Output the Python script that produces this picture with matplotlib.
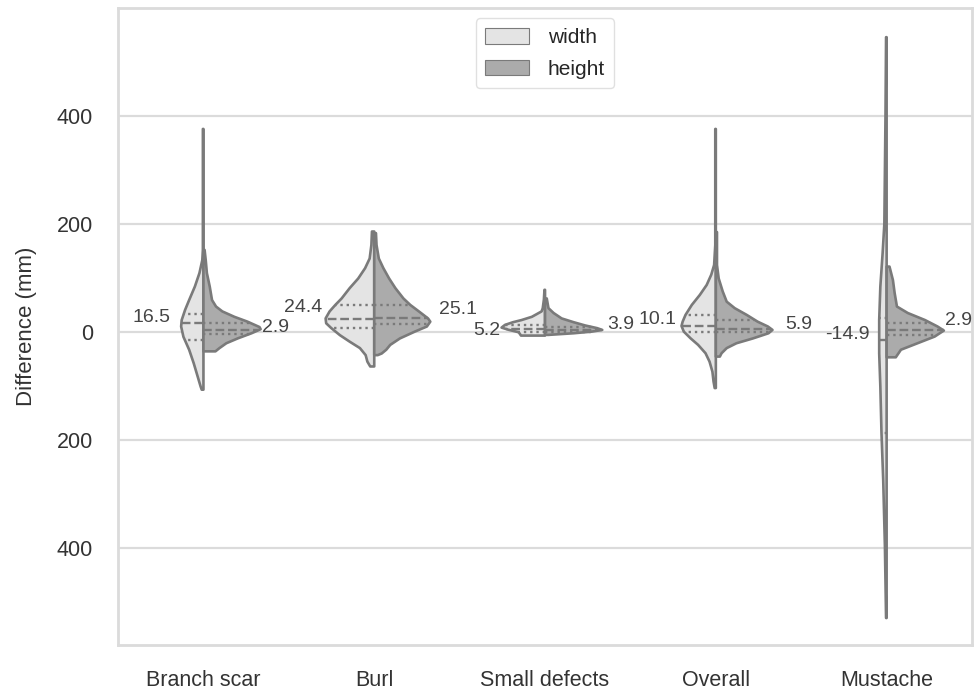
import numpy as np
import matplotlib.pyplot as plt
import seaborn as sns
from matplotlib.patches import Patch

sns.set_style("whitegrid")
plt.rcParams['font.family'] = ['Liberation Sans', 'DejaVu Sans']

categories = ["Branch scar", "Burl", "Small defects", "Overall", "Mustache"]
hue_labels = ["width", "height"]

# half-violin outlines: value (mm) from top to bottom and relative density
width_y = [
    [376, 250, 152, 133, 109, 84, 59, 41, 22, 10, -9, -33, -58, -83, -101, -107],
    [186, 161, 136, 118, 99, 81, 62, 50, 38, 25, 16, 7, -6, -18, -30, -43, -55, -64],
    [78, 60, 44, 38, 28, 22, 18, 13, 8, 4, -0.6, -6.8],
    [376, 250, 161, 124, 106, 87, 68.5, 50, 31.5, 19, 11, 0.6, -12, -24, -39.5, -55, -73.5, -92, -104],
    [546, 400, 300, 200, 146, 84, 22, -40, -101, -187, -274, -398, -530],
]
width_d = [
    [0.01, 0.01, 0.01, 0.02, 0.07, 0.15, 0.25, 0.32, 0.38, 0.39, 0.35, 0.25, 0.17, 0.10, 0.05, 0.03],
    [0.04, 0.05, 0.08, 0.16, 0.28, 0.43, 0.57, 0.68, 0.78, 0.85, 0.84, 0.75, 0.60, 0.43, 0.25, 0.15, 0.12, 0.07],
    [0.01, 0.02, 0.04, 0.06, 0.23, 0.41, 0.56, 0.70, 0.76, 0.64, 0.46, 0.42],
    [0.01, 0.01, 0.01, 0.03, 0.08, 0.16, 0.28, 0.42, 0.53, 0.58, 0.60, 0.56, 0.44, 0.31, 0.18, 0.11, 0.06, 0.04, 0.02],
    [0.01, 0.02, 0.03, 0.04, 0.07, 0.11, 0.13, 0.13, 0.11, 0.09, 0.06, 0.03, 0.01],
]
height_y = [
    [152, 133, 109, 84, 59, 47, 38, 28, 19, 9, 5, -2.5, -12, -21, -30, -36],
    [183, 161, 136, 118, 99, 81, 62, 50, 38, 25, 19, 10, 0.6, -12, -24, -33, -40, -43],
    [62, 44, 35, 25, 18, 12, 7, 3.7, 0.6, -2.5, -5.5],
    [185, 161, 124, 99, 75, 56, 44, 31.5, 19, 10, 3.7, -2.5, -12, -21, -30, -39.5, -45.7],
    [121, 96, 72, 47, 35, 22, 10, 2.5, -8.6, -21, -33, -47],
]
height_d = [
    [0.02, 0.04, 0.06, 0.11, 0.15, 0.22, 0.33, 0.54, 0.77, 0.98, 1.0, 0.84, 0.60, 0.40, 0.28, 0.21],
    [0.03, 0.04, 0.08, 0.16, 0.26, 0.37, 0.51, 0.63, 0.78, 0.94, 0.98, 0.92, 0.71, 0.45, 0.28, 0.21, 0.13, 0.06],
    [0.03, 0.06, 0.15, 0.29, 0.50, 0.70, 0.91, 1.0, 0.82, 0.50, 0.06],
    [0.02, 0.02, 0.02, 0.05, 0.12, 0.19, 0.33, 0.54, 0.73, 0.91, 0.99, 0.92, 0.65, 0.36, 0.19, 0.10, 0.07],
    [0.05, 0.11, 0.14, 0.18, 0.37, 0.67, 0.89, 1.0, 0.84, 0.54, 0.25, 0.16],
]

# quartiles
width_q1 = [-15, 7, 0, 0.6, -187]
width_med = [16.5, 24.4, 5.2, 10.1, -14.9]
width_q3 = [33, 50, 12, 32, 26]
height_q1 = [-3, 15, 0.5, 0, -6]
height_med = [2.9, 25.1, 3.9, 5.9, 2.9]
height_q3 = [16, 50, 9, 23, 16]

yticks = [-400, -200, 0, 200, 400]
ytick_labels = ["400", "200", "0", "200", "400"]

light = "#e4e4e4"
dark = "#ababab"
edge = "#7a7a7a"
half = 0.335

# median label nudges in points so neighbouring labels don't collide
width_nudge = [(-7.7, 0.7), (-2.4, 5.0), (-1.1, -4.3), (-3.3, 1.8), (-6.9, 0.7)]
height_nudge = [(1.2, -1.4), (6.5, 2.9), (3.6, 0.7), (9.4, 0.0), (0.7, 3.6)]

fig, ax = plt.subplots(figsize=(9.78, 6.92), dpi=100)
fig.subplots_adjust(left=0.1207, right=0.9939, bottom=0.0679, top=0.9884)


def half_violin(pos, ys, ds, sign, color, q1, med, q3):
    ys = np.asarray(ys, float)
    ws = np.asarray(ds, float) * half
    px = np.concatenate([[pos], pos + sign * ws, [pos]])
    py = np.concatenate([[ys[0]], ys, [ys[-1]]])
    ax.fill(px, py, facecolor=color, edgecolor=edge, lw=1.9, zorder=2,
            joinstyle="round")
    for q, ls in ((q1, ":"), (med, "--"), (q3, ":")):
        w = np.interp(q, ys[::-1], ws[::-1])
        ax.plot([pos, pos + sign * w], [q, q], ls=ls, color=edge, lw=1.7,
                zorder=3)
    return ws.max()


for i in range(len(categories)):
    wl = half_violin(i, width_y[i], width_d[i], -1, light,
                     width_q1[i], width_med[i], width_q3[i])
    wr = half_violin(i, height_y[i], height_d[i], 1, dark,
                     height_q1[i], height_med[i], height_q3[i])
    ax.annotate(f"{width_med[i]:.1f}", xy=(i - wl, width_med[i]),
                xytext=width_nudge[i], textcoords="offset points",
                ha="right", va="baseline", fontsize=14, color=".27")
    ax.annotate(f"{height_med[i]:.1f}", xy=(i + wr, height_med[i]),
                xytext=height_nudge[i], textcoords="offset points",
                ha="left", va="baseline", fontsize=14, color=".27")

ax.set_xlim(-0.5, len(categories) - 0.5)
ax.set_ylim(-580, 600)
ax.set_xticks(range(len(categories)))
ax.set_xticklabels(categories)
ax.set_yticks(yticks)
ax.set_yticklabels(ytick_labels)
ax.tick_params(axis="both", labelsize=15.5, colors=".2", length=0)
ax.tick_params(axis="y", pad=18)
ax.tick_params(axis="x", pad=18)
ax.set_ylabel("Difference (mm)", fontsize=16, color=".2", labelpad=14)
ax.grid(False, axis="x")
ax.grid(True, axis="y", color=".86", lw=1.6)
for sp in ax.spines.values():
    sp.set_color(".86")
    sp.set_linewidth(2)

handles = [Patch(facecolor=light, edgecolor=edge, lw=0.8, label=hue_labels[0]),
           Patch(facecolor=dark, edgecolor=edge, lw=0.8, label=hue_labels[1])]
ax.legend(handles=handles, loc="upper center", fontsize=15, handlelength=2.1,
          handleheight=0.8, labelspacing=0.6, handletextpad=0.9,
          borderpad=0.45, frameon=True, edgecolor=".85", fancybox=True)

fig.savefig("out.png", dpi=100)
